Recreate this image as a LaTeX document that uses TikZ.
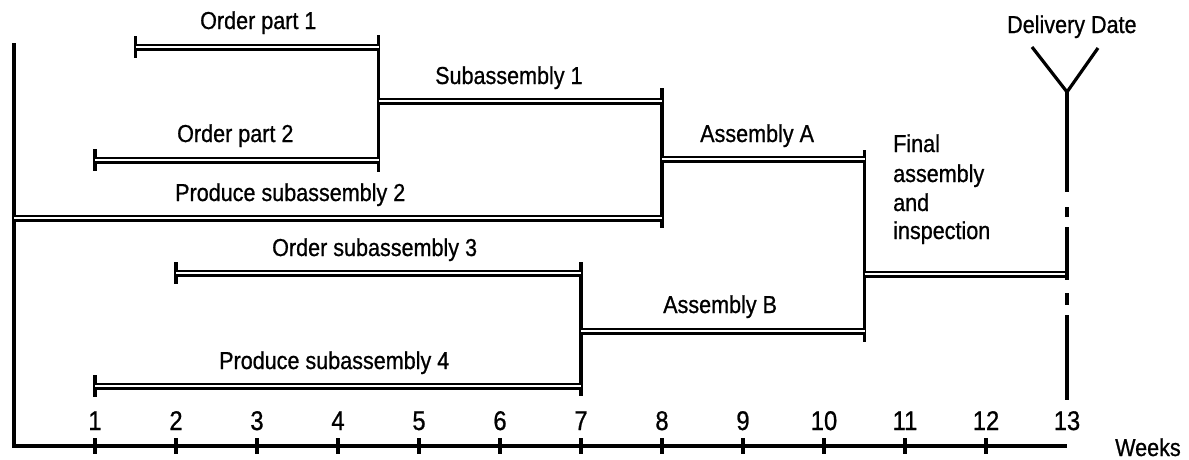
\documentclass[tikz,border=0pt]{standalone}
\usepackage{fontspec}
\setmainfont{Liberation Sans}[FakeStretch=0.88,FakeBold=0.8]
\begin{document}
\begin{tikzpicture}[x=1pt,y=-1pt,
  bar/.style={draw=black, double=white, line width=2.5pt, double distance=2.0pt},
  vline/.style={draw=black, line width=3.2pt},
  lbl/.style={anchor=base west, inner sep=0pt, font=\fontsize{24.5}{29}\selectfont},
  num/.style={anchor=base, inner sep=0pt, font=\fontsize{27}{30}\selectfont}]
\useasboundingbox (0,0) rectangle (1189,459);

% ---- axis frame
\coordinate (L0) at (14,43);
\coordinate (L1) at (14,446);
\coordinate (A13) at ({14+81*13},446);
\draw[vline, line join=miter] (L0) -- (L1) -- (A13);
\foreach \k in {1,...,12}{
  \coordinate (t\k a) at ({14+81*\k},438);
  \coordinate (t\k b) at ({14+81*\k},454);
  \draw[vline] (t\k a) -- (t\k b);
}
\foreach \k in {1,...,13}{
  \node[num] (n\k) at ({14+81*\k},430) {\k};
}
\node[lbl] (weeks) at (1115,456) {Weeks};

% ---- junction verticals
\coordinate (j45t) at ({14+81*4.5},35);  \coordinate (j45b) at ({14+81*4.5},172);
\coordinate (j8t)  at ({14+81*8},88);    \coordinate (j8b)  at ({14+81*8},228);
\coordinate (j105t) at ({14+81*10.5},150); \coordinate (j105b) at ({14+81*10.5},342);
\coordinate (j7t)  at ({14+81*7},262);   \coordinate (j7b)  at ({14+81*7},396);
\draw[vline] (j45t) -- (j45b);
\draw[vline] (j8t) -- (j8b);
\draw[vline] (j105t) -- (j105b);
\draw[vline] (j7t) -- (j7b);

% ---- start ticks
\coordinate (s1t) at ({14+81*1.5},36); \coordinate (s1b) at ({14+81*1.5},58);
\coordinate (s2t) at ({14+81*1},149);  \coordinate (s2b) at ({14+81*1},171);
\coordinate (s3t) at ({14+81*2},262);  \coordinate (s3b) at ({14+81*2},284);
\coordinate (s4t) at ({14+81*1},375);  \coordinate (s4b) at ({14+81*1},397);
\draw[vline] (s1t) -- (s1b);
\draw[vline] (s2t) -- (s2b);
\draw[vline] (s3t) -- (s3b);
\draw[vline] (s4t) -- (s4b);

% ---- activity bars
\coordinate (op1s) at ({14+81*1.5},47);  \coordinate (op1e) at ({14+81*4.5},47);
\coordinate (sa1s) at ({14+81*4.5},101); \coordinate (sa1e) at ({14+81*8},101);
\coordinate (op2s) at ({14+81*1},160);   \coordinate (op2e) at ({14+81*4.5},160);
\coordinate (ps2s) at (14,218);          \coordinate (ps2e) at ({14+81*8},218);
\coordinate (aas)  at ({14+81*8},159);   \coordinate (aae)  at ({14+81*10.5},159);
\coordinate (os3s) at ({14+81*2},273);   \coordinate (os3e) at ({14+81*7},273);
\coordinate (fas)  at ({14+81*10.5},274);\coordinate (fae)  at ({14+81*13},274);
\coordinate (abs)  at ({14+81*7},331);   \coordinate (abe)  at ({14+81*10.5},331);
\coordinate (ps4s) at ({14+81*1},386);   \coordinate (ps4e) at ({14+81*7},386);
\draw[bar] (op1s) -- (op1e);
\draw[bar] (sa1s) -- (sa1e);
\draw[bar] (op2s) -- (op2e);
\draw[bar] (ps2s) -- (ps2e);
\draw[bar] (aas) -- (aae);
\draw[bar] (os3s) -- (os3e);
\draw[bar] (fas) -- (fae);
\draw[bar] (abs) -- (abe);
\draw[bar] (ps4s) -- (ps4e);

% ---- labels
\node[lbl] (lop1) at (200,29)  {Order part 1};
\node[lbl] (lsa1) at (435,84)  {Subassembly 1};
\node[lbl] (lop2) at (177,142) {Order part 2};
\node[lbl] (lps2) at (175,201) {Produce subassembly 2};
\node[lbl] (laa)  at (700,142) {Assembly A};
\node[lbl] (los3) at (272,256) {Order subassembly 3};
\node[lbl] (lab)  at (663,313) {Assembly B};
\node[lbl] (lps4) at (219,369) {Produce subassembly 4};
\node[lbl] (fin1) at (893,152) {Final};
\node[lbl] (fin2) at (893,182) {assembly};
\node[lbl] (fin3) at (893,211) {and};
\node[lbl] (fin4) at (893,239) {inspection};

% ---- delivery date marker
\node[lbl] (ldd) at (1007,33) {Delivery Date};
\coordinate (yl) at (1032,47);
\coordinate (yr) at (1098,48);
\coordinate (yb) at ({14+81*13},92);
\draw[vline, line join=miter] (yl) -- (yb) -- (yr);
% dash-dot delivery line, drawn as its visible segments
\draw[vline] (yb) -- ++(0,100);
\draw[vline] ([yshift=-115pt]yb) -- ++(0,10);
\draw[vline] ([yshift=-135pt]yb) -- ++(0,53);
\draw[vline] ([yshift=-201pt]yb) -- ++(0,12);
\draw[vline] ([yshift=-223pt]yb) -- ++(0,85);
\end{tikzpicture}
\end{document}
